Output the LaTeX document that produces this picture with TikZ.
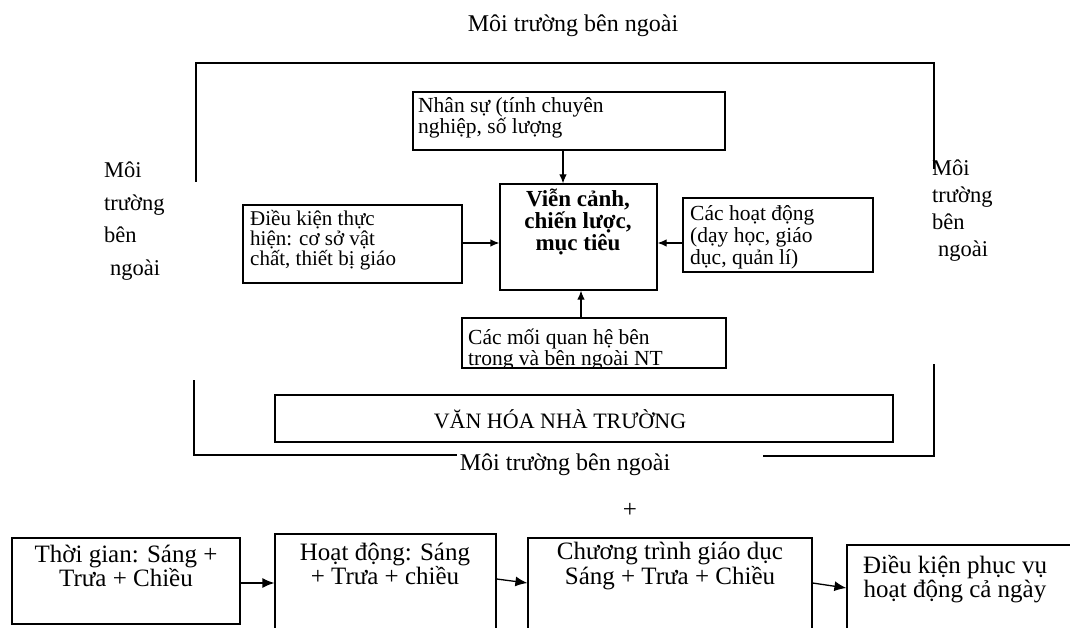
\documentclass[tikz,border=0pt]{standalone}
\usepackage{fontspec}
\setmainfont{Liberation Serif}
\usetikzlibrary{arrows.meta}
\newcommand\fsTitle{\fontsize{24}{27}\selectfont}
\newcommand\fsIn{\fontsize{21.5}{21.5}\selectfont}
\newcommand\fsInB{\fontsize{23}{22}\selectfont\bfseries}
\newcommand\fsBig{\fontsize{25}{24.5}\selectfont}
\begin{document}
\begin{tikzpicture}[x=1pt,y=-1pt,
  box/.style={draw, line width=1.2pt, inner sep=0pt},
  txt/.style={inner sep=0pt, align=left},
  frame/.style={line width=1.2pt},
  arr/.style={-{Latex[length=12pt,width=10pt]}, line width=1.3pt},
  arrI/.style={-{Latex[length=9pt,width=7.5pt]}, line width=1.2pt}]
\useasboundingbox (0,0) rectangle (1070,628);
\fill[white] (0,0) rectangle (1070,628);

% title and side labels
\node[font=\fsTitle, inner sep=0pt] (top) at (573,26) {Môi trường bên ngoài};
\node[font=\fsTitle, inner sep=0pt] (bot) at (565,465) {Môi trường bên ngoài};
\node[txt, anchor=west, font=\fontsize{22.5}{32.7}\selectfont] (leftL) at (104,221) {Môi\\trường\\bên\\\hspace*{6pt}ngoài};
\node[txt, anchor=west, font=\fontsize{22.5}{27}\selectfont] (rightL) at (932,211) {Môi\\trường\\bên\\\hspace*{6pt}ngoài};

% outer frame
\coordinate (f1) at (196,182);
\coordinate (f2) at (196,63);
\coordinate (f3) at (934,63);
\coordinate (f4) at (934,169);
\coordinate (g1) at (194,380);
\coordinate (g2) at (194,455);
\coordinate (g3) at (457,455);
\coordinate (h1) at (763,456);
\coordinate (h2) at (934,456);
\coordinate (h3) at (934,364);
\draw[frame] (f1) -- (f2) -- (f3) -- (f4);
\draw[frame] (g1) -- (g2) -- (g3);
\draw[frame] (h1) -- (h2) -- (h3);

% inner boxes
\node[box, minimum width=312pt, minimum height=58pt] (nhan) at (569,121) {};
\node[txt, anchor=west, font=\fsIn] (nhanT) at (418,118) {Nhân sự (tính chuyên\\nghiệp, số lượng};

\node[box, minimum width=157pt, minimum height=106pt] (goal) at (578.5,237) {};
\node[inner sep=0pt, align=center, font=\fsInB] (goalT) at (578,222) {Viễn cảnh,\\chiến lược,\\mục tiêu};

\node[box, minimum width=219pt, minimum height=78pt] (dk) at (352.5,244) {};
\node[txt, anchor=west, font=\fontsize{21}{20}\selectfont] (dkT) at (250,240) {Điều kiện thực\\hiện: cơ sở vật\\chất, thiết bị giáo};

\node[box, minimum width=190pt, minimum height=74pt] (hd) at (778,235) {};
\node[txt, anchor=west, font=\fontsize{21.5}{22}\selectfont] (hdT) at (690,237) {Các hoạt động\\(dạy học, giáo\\dục, quản lí)};

\node[box, minimum width=264pt, minimum height=50pt] (qh) at (594,343) {};
\begin{scope}
  \clip (qh.north west) rectangle (qh.south east);
  \node[txt, anchor=west, font=\fontsize{21.5}{21}\selectfont] (qhT) at (468,350) {Các mối quan hệ bên\\trong và bên ngoài NT};
\end{scope}
\draw[line width=1.2pt] (qh.south west) -- (qh.south east);

\node[box, minimum width=618pt, minimum height=47pt] (vh) at (584,418.5) {};
\node[font=\fontsize{22}{24}\selectfont, inner sep=0pt] (vhT) at (560,419) {VĂN HÓA NHÀ TRƯỜNG};

% inner arrows
\draw[arrI] ([xshift=-6pt]nhan.south) -- ([xshift=-15.5pt]goal.north);
\draw[arrI] ([yshift=1pt]dk.east) -- ([yshift=-6pt]goal.west);
\draw[arrI] ([yshift=-8pt]hd.west) -- ([yshift=-6pt]goal.east);
\draw[arrI] ([xshift=-13pt]qh.north) -- ([xshift=2.5pt]goal.south);

% plus
\node[font=\fsBig, inner sep=0pt] (plus) at (630,510) {+};

% bottom chain
\node[box, minimum width=228pt, minimum height=86pt] (b1) at (126,581) {};
\node[font=\fsBig, align=center, inner sep=0pt] (b1T) at (126,566) {Thời gian: Sáng +\\Trưa + Chiều};
\node[box, minimum width=221pt, minimum height=106pt] (b2) at (385.5,587) {};
\node[font=\fsBig, align=center, inner sep=0pt] (b2T) at (385,564) {Hoạt động: Sáng\\+ Trưa + chiều};
\node[box, minimum width=284pt, minimum height=102pt] (b3) at (670,589) {};
\node[font=\fsBig, align=center, inner sep=0pt] (b3T) at (670,566) {Chương trình giáo dục\\Sáng + Trưa + Chiều};
\node[box, minimum width=230pt, minimum height=95pt] (b4) at (962,592.5) {};
\node[font=\fsBig, align=center, inner sep=0pt] (b4T) at (955,579) {Điều kiện phục vụ\\hoạt động cả ngày};

\draw[arr] ([yshift=-2pt]b1.east) -- ([yshift=4pt]b2.west);
\draw[arr] ([yshift=8pt]b2.east) -- ([yshift=6pt]b3.west);
\draw[arr] ([yshift=6pt]b3.east) -- ([yshift=4.5pt]b4.west);
\end{tikzpicture}
\end{document}
